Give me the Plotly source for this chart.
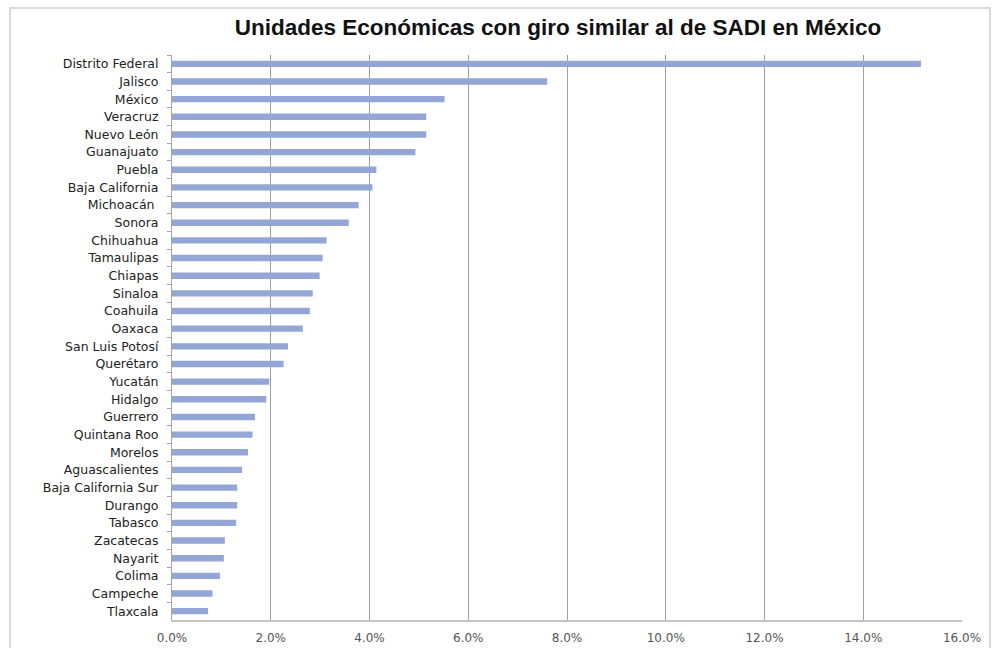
import plotly.graph_objects as go

states = ["Distrito Federal", "Jalisco", "México", "Veracruz", "Nuevo León", "Guanajuato",
          "Puebla", "Baja California", "Michoacán ", "Sonora", "Chihuahua", "Tamaulipas",
          "Chiapas", "Sinaloa", "Coahuila", "Oaxaca", "San Luis Potosí", "Querétaro",
          "Yucatán", "Hidalgo", "Guerrero", "Quintana Roo", "Morelos", "Aguascalientes",
          "Baja California Sur", "Durango", "Tabasco", "Zacatecas", "Nayarit", "Colima",
          "Campeche", "Tlaxcala"]
share = [0.1517, 0.0760, 0.0552, 0.0515, 0.0515, 0.0493,
         0.0414, 0.0406, 0.0378, 0.0358, 0.0313, 0.0305,
         0.0299, 0.0285, 0.0279, 0.0265, 0.0235, 0.0226,
         0.0197, 0.0191, 0.0168, 0.0163, 0.0154, 0.0142,
         0.0132, 0.0132, 0.0130, 0.0107, 0.0105, 0.0097,
         0.0082, 0.0073]
x_ticks = [0, 0.02, 0.04, 0.06, 0.08, 0.10, 0.12, 0.14, 0.16]
title = "Unidades Económicas con giro similar al de SADI en México"

fig = go.Figure(go.Bar(
    x=share, y=states, orientation="h",
    marker=dict(color="#93A6D6", line=dict(width=0)),
))

L, R, T, B = 172, 37, 55, 28
W, H = 999, 648
pw, ph = W - L - R, H - T - B

fig.update_layout(
    width=W, height=H,
    margin=dict(l=L, r=R, t=T, b=B, pad=0),
    paper_bgcolor="white", plot_bgcolor="white",
    bargap=0.64,
    showlegend=False,
    font=dict(family="DejaVu Sans, sans-serif", color="#222222"),
    title=dict(text="<b>" + title + "</b>", x=558 / W, xanchor="center",
               y=1 - 27 / H, yanchor="middle",
               font=dict(family="Liberation Sans, Arial, sans-serif", size=22.5, color="#111111")),
    xaxis=dict(range=[0, 0.16], tickvals=x_ticks, tickformat=".1%",
               showgrid=True, gridcolor="#A0A0A0", gridwidth=1,
               showline=True, linecolor="#C4C4C4", linewidth=2,
               ticks="", ticklabelstandoff=6, automargin=False,
               tickfont=dict(family="DejaVu Sans, sans-serif", size=12, color="#555555"),
               zeroline=False, fixedrange=True),
    yaxis=dict(autorange="reversed", showline=True, linecolor="#A6A6A6", linewidth=1,
               ticks="outside", ticklen=4, tickcolor="#A6A6A6",
               tickson="boundaries", ticklabelstandoff=10, automargin=False,
               tickfont=dict(family="DejaVu Sans, sans-serif", size=12.5, color="#222222"),
               fixedrange=True),
    shapes=[dict(type="rect", xref="paper", yref="paper",
                 x0=(10 - L) / pw, x1=(990 - L) / pw,
                 y0=(H - B - 660) / ph, y1=(H - B - 8) / ph,
                 line=dict(color="#D0D0D0", width=1.5), fillcolor="rgba(0,0,0,0)",
                 layer="below")],
)

fig.write_html("out.html")
